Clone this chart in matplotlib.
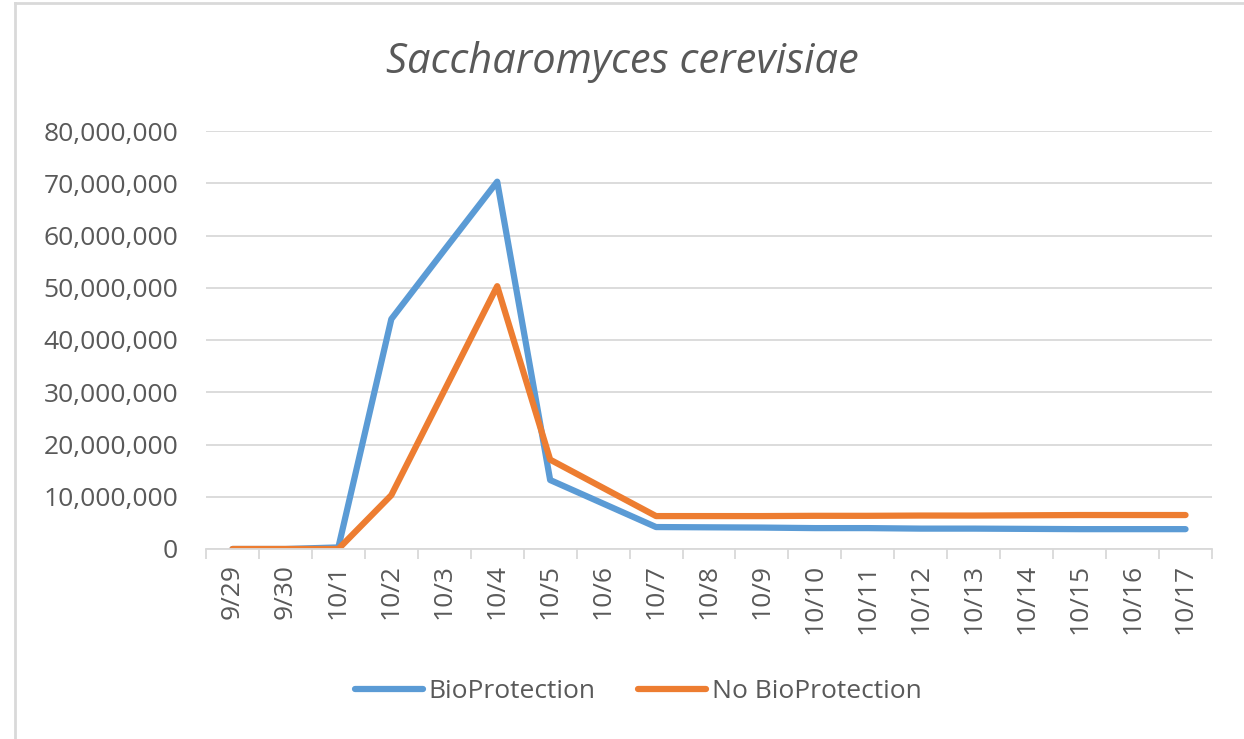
import numpy as np
import matplotlib.pyplot as plt
from matplotlib.lines import Line2D

plt.rcParams['font.family'] = ['Open Sans', 'DejaVu Sans']

dates = ['9/29', '9/30', '10/1', '10/2', '10/3', '10/4', '10/5', '10/6', '10/7', '10/8',
         '10/9', '10/10', '10/11', '10/12', '10/13', '10/14', '10/15', '10/16', '10/17']

# cell counts
bio = [0, 0, 300000, 44000000, 57200000, 70300000, 13200000, 8700000, 4200000, 4150000,
       4100000, 4000000, 4000000, 3900000, 3900000, 3850000, 3800000, 3800000, 3800000]
no_bio = [0, 0, 0, 10300000, 30300000, 50300000, 17100000, 11700000, 6300000, 6300000,
          6300000, 6350000, 6350000, 6400000, 6400000, 6450000, 6500000, 6500000, 6500000]

blue = '#5B9BD5'
orange = '#ED7D31'
grid_c = '#D9D9D9'
text_c = '#595959'

fig = plt.figure(figsize=(12.44, 7.39), dpi=100)
ax = fig.add_axes([206 / 1244, 1 - 549 / 739, (1212 - 206) / 1244, (549 - 131) / 739])

x = np.arange(len(dates))
ax.plot(x, bio, color=blue, lw=4.5, solid_capstyle='round', solid_joinstyle='round')
ax.plot(x, no_bio, color=orange, lw=4.5, solid_capstyle='round', solid_joinstyle='round')

ax.set_xlim(-0.5, len(dates) - 0.5)
ax.set_ylim(0, 80000000)
ax.set_yticks(np.arange(0, 80000001, 10000000))
ax.yaxis.set_major_formatter(plt.FuncFormatter(lambda v, p: f'{int(v):,}'))
ax.grid(axis='y', color=grid_c, lw=1.3)
ax.set_axisbelow(True)
for s in ['top', 'right', 'left']:
    ax.spines[s].set_visible(False)
ax.spines['bottom'].set_color(grid_c)
ax.spines['bottom'].set_linewidth(1.3)

ax.set_xticks(x)
ax.set_xticklabels(dates, rotation=90, fontsize=19, color=text_c)
ax.tick_params(axis='x', which='major', length=0, pad=11)
ax.set_xticks(np.arange(-0.5, len(dates), 1), minor=True)
ax.tick_params(axis='x', which='minor', length=7, color=grid_c, width=1.3)
ax.tick_params(axis='y', length=0, labelsize=19, labelcolor=text_c, pad=20)

fig.text(0.5, 1 - 62 / 739, 'Saccharomyces cerevisiae', ha='center', va='center',
         fontsize=30, style='italic', color=text_c)

handles = [Line2D([], [], color=blue, lw=4.5, solid_capstyle='round'),
           Line2D([], [], color=orange, lw=4.5, solid_capstyle='round')]
fig.legend(handles, ['BioProtection', 'No BioProtection'], loc='center',
           bbox_to_anchor=(638 / 1244, 1 - 692 / 739), ncol=2, frameon=False,
           fontsize=19, labelcolor=text_c, handlelength=2.6, handletextpad=0.2,
           columnspacing=1.6)

# outer chart border (top and left edges visible)
fig.add_artist(Line2D([15 / 1244, 15 / 1244], [0, 1 - 3 / 739], color=grid_c, lw=2))
fig.add_artist(Line2D([15 / 1244, 1], [1 - 3 / 739, 1 - 3 / 739], color=grid_c, lw=2))

fig.savefig('out.png', dpi=100)
